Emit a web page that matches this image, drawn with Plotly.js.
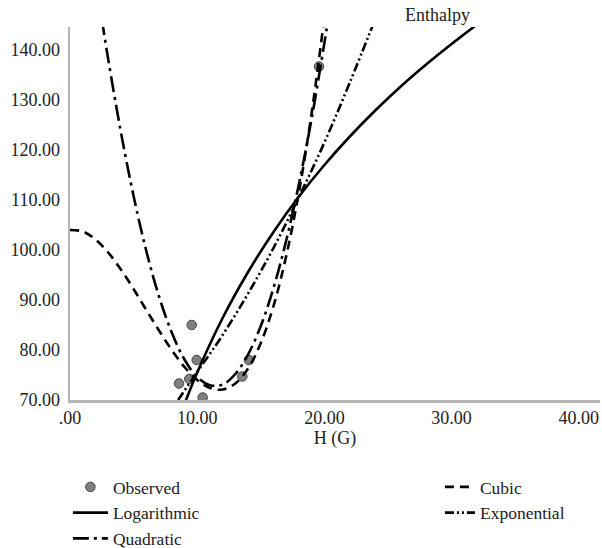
<!DOCTYPE html>
<html><head><meta charset="utf-8">
<script src="https://cdn.plot.ly/plotly-3.0.1.min.js"></script>
<style>html,body{margin:0;padding:0;background:#fff}#chart{width:602px;height:548px}</style>
</head><body><div id="chart"></div>
<script>
// Observed points
var obsX = [8.57, 9.38, 9.57, 9.96, 10.43, 13.55, 14.07, 19.58];
var obsY = [73.3, 74.2, 85.0, 78.0, 70.5, 74.7, 78.0, 136.7];
// Logarithmic fit
var logX = [8.8, 9, 10, 12, 14, 16, 18, 20, 22, 24, 26, 28, 30, 32];
var logY = [67.9, 69.2, 75.5, 86.4, 95.6, 103.6, 110.7, 117.0, 122.7, 127.9, 132.7, 137.1, 141.2, 145.1];
// Quadratic fit
var quadX = [2.5, 3, 4, 5, 6, 7, 8, 9, 10, 11, 12, 13, 14, 15, 16, 17, 18, 19, 20, 20.3];
var quadY = [146.2, 138.2, 123.6, 110.8, 99.8, 90.7, 83.5, 78.1, 74.6, 72.95, 73.1, 75.2, 79.1, 84.8, 92.4, 101.9, 113.2, 126.3, 141.4, 146.2];
// Cubic fit
var cubX = [0, 1, 2, 3, 4, 5, 6, 7, 8, 9, 10, 11, 12, 13, 14, 15, 16, 17, 18, 19, 20];
var cubY = [104.0, 103.7, 102.1, 99.5, 96.1, 92.2, 88.0, 83.9, 80.0, 76.6, 74.0, 72.4, 72.1, 73.3, 76.3, 81.4, 88.8, 98.8, 111.6, 127.4, 146.6];
// Exponential fit
var expX = [8.5, 10, 12, 14, 16, 18, 20, 22, 24];
var expY = [70.0, 75.6, 83.0, 91.3, 100.4, 110.6, 121.5, 133.5, 146.2];
// Axis ticks
var xTickVals = [0, 10, 20, 30, 40];
var xTickText = ['.00', '10.00', '20.00', '30.00', '40.00'];
var yTickVals = [70, 80, 90, 100, 110, 120, 130, 140];

var FONT = 'Liberation Serif, Times New Roman, serif';
var TXT = '#222';
var FS = 18;
var LFS = 17.5;

var traces = [
  {x: obsX, y: obsY, mode: 'markers', type: 'scatter', name: 'Observed', legend: 'legend',
   marker: {size: 9.5, color: '#808080', line: {color: '#444', width: 1}}},
  {x: logX, y: logY, mode: 'lines', type: 'scatter', name: 'Logarithmic', legend: 'legend',
   line: {color: '#000', width: 2.6, shape: 'spline'}},
  {x: quadX, y: quadY, mode: 'lines', type: 'scatter', name: 'Quadratic', legend: 'legend',
   line: {color: '#000', width: 2.6, shape: 'spline', dash: '16px,5px,3px,5px'}},
  {x: cubX, y: cubY, mode: 'lines', type: 'scatter', name: 'Cubic', legend: 'legend2',
   line: {color: '#000', width: 2.6, shape: 'spline', dash: '9px,6px'}},
  {x: expX, y: expY, mode: 'lines', type: 'scatter', name: 'Exponential', legend: 'legend2',
   line: {color: '#000', width: 2.6, shape: 'spline', dash: '9px,3px,2px,3px,2px,3px'}}
];

var layout = {
  width: 602, height: 548,
  margin: {l: 70, r: 2, t: 27, b: 148, pad: 0, autoexpand: false},
  paper_bgcolor: '#fff', plot_bgcolor: '#fff',
  font: {family: FONT, size: FS, color: TXT},
  showlegend: true,
  xaxis: {
    range: [0, 41.67], showgrid: false, zeroline: false, showline: true,
    linecolor: '#b5b5b5', linewidth: 2.5, ticks: '',
    tickvals: xTickVals, ticktext: xTickText,
    tickfont: {family: FONT, size: FS, color: TXT},
    title: {text: 'H (G)', font: {family: FONT, size: FS, color: TXT}, standoff: 4}
  },
  yaxis: {
    range: [70, 144.6], showgrid: false, zeroline: false, showline: true,
    linecolor: '#b5b5b5', linewidth: 2.5, ticks: '',
    tickvals: yTickVals, tickformat: '.2f', ticklabelstandoff: 4,
    tickfont: {family: FONT, size: FS, color: TXT}
  },
  legend: {x: -0.004, xanchor: 'left', y: -0.185, yanchor: 'top', orientation: 'v', itemwidth: 35,
    font: {family: FONT, size: LFS, color: TXT}, bgcolor: 'rgba(0,0,0,0)', tracegroupgap: 0},
  legend2: {x: 0.698, xanchor: 'left', y: -0.185, yanchor: 'top', orientation: 'v',
    font: {family: FONT, size: LFS, color: TXT}, bgcolor: 'rgba(0,0,0,0)', tracegroupgap: 0},
  annotations: [
    {text: 'Enthalpy', xref: 'paper', yref: 'paper', x: 0.6925, y: 1.032,
     xanchor: 'center', yanchor: 'middle', showarrow: false,
     font: {family: FONT, size: FS, color: TXT}}
  ]
};

Plotly.newPlot('chart', traces, layout, {displayModeBar: false, staticPlot: true});
</script></body></html>
